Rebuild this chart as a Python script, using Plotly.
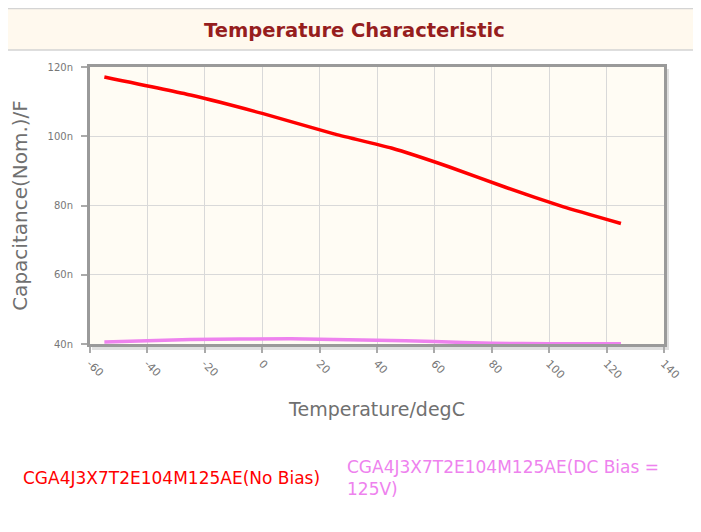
import plotly.graph_objects as go

# ---- data ----
temp_nobias = [-55, -25, 0, 25, 45, 65, 85, 105, 125]
cap_nobias = [117.1, 111.9, 106.6, 100.7, 96.6, 91.2, 85.2, 79.6, 74.8]  # nF

temp_dcbias = [-55, -25, 10, 40, 60, 80, 100, 125]
cap_dcbias = [40.6, 41.3, 41.5, 41.1, 40.7, 40.2, 40.1, 40.1]  # nF

y_tickvals = [40, 60, 80, 100, 120]
y_ticktext = ["40n", "60n", "80n", "100n", "120n"]
x_tickvals = [-60, -40, -20, 0, 20, 40, 60, 80, 100, 120, 140]
x_ticktext = ["-60", "-40", "-20", "0", "20", "40", "60", "80", "100", "120", "140"]

name_nobias = "CGA4J3X7T2E104M125AE(No Bias)"
name_dcbias = "CGA4J3X7T2E104M125AE(DC Bias =<br>125V)"

# ---- layout geometry (pixels, page body adds an 8px offset) ----
OFF = 8
W, H = 701 - OFF, 532 - OFF
ML, MR, MT, MB = 90 - OFF, 37, 67 - OFF, 188
PW = W - ML - MR
PH = H - MT - MB


def px_x(px):
    return (px - OFF - ML) / PW


def px_y(py):
    return (H - MB - (py - OFF)) / PH


fig = go.Figure()
fig.add_trace(go.Scatter(x=temp_nobias, y=cap_nobias, mode="lines",
                         line=dict(color="#ff0000", width=3.5, shape="spline", smoothing=0.4),
                         name=name_nobias, showlegend=False, hoverinfo="skip"))
fig.add_trace(go.Scatter(x=temp_dcbias, y=cap_dcbias, mode="lines",
                         line=dict(color="#ee82ee", width=3.5, shape="spline", smoothing=0.4),
                         name=name_dcbias, showlegend=False, hoverinfo="skip"))

shapes = []
# title band
shapes.append(dict(type="rect", xref="paper", yref="paper",
                   x0=px_x(5), x1=px_x(720), y0=px_y(50), y1=px_y(8.5),
                   fillcolor="#fff9ee", line=dict(color="#d4d4d4", width=1.5), layer="below"))
# frame shadow
shapes.append(dict(type="rect", xref="paper", yref="paper",
                   x0=px_x(665), x1=px_x(669), y0=px_y(350), y1=px_y(69),
                   fillcolor="rgba(0,0,0,0.12)", line=dict(width=0), layer="below"))
shapes.append(dict(type="rect", xref="paper", yref="paper",
                   x0=px_x(92), x1=px_x(665), y0=px_y(350), y1=px_y(346),
                   fillcolor="rgba(0,0,0,0.12)", line=dict(width=0), layer="below"))

annotations = [
    dict(text="<b>Temperature Characteristic</b>", xref="paper", yref="paper",
         x=px_x(354), y=px_y(30), xanchor="center", yanchor="middle", showarrow=False,
         font=dict(family="DejaVu Sans", size=19.5, color="#961e1e")),
    dict(text=name_nobias, xref="paper", yref="paper",
         x=px_x(21), y=px_y(478), xanchor="left", yanchor="middle", showarrow=False,
         align="left", font=dict(family="DejaVu Sans", size=17, color="#ff0000")),
    dict(text=name_dcbias, xref="paper", yref="paper",
         x=px_x(345), y=px_y(478), xanchor="left", yanchor="middle", showarrow=False,
         align="left", font=dict(family="DejaVu Sans", size=17, color="#ee82ee")),
]

fig.update_layout(
    width=W, height=H,
    margin=dict(l=ML, r=MR, t=MT, b=MB, pad=0, autoexpand=False),
    paper_bgcolor="#ffffff", plot_bgcolor="#fffcf4",
    shapes=shapes, annotations=annotations,
    showlegend=False,
)
fig.update_xaxes(range=[-60, 140], tickvals=x_tickvals, ticktext=x_ticktext, tickangle=45,
                 automargin=False,
                 showgrid=True, gridcolor="#d9d9d9", gridwidth=1,
                 showline=True, linecolor="#9a9a9a", linewidth=3, mirror=True,
                 ticks="outside", ticklen=6, tickcolor="#aaaaaa", tickwidth=1.5,
                 tickfont=dict(family="DejaVu Sans", size=11, color="#777777"),
                 zeroline=False,
                 title=dict(text="Temperature/degC", standoff=23,
                            font=dict(family="DejaVu Sans", size=19, color="#707070")))
fig.update_yaxes(range=[40, 120], tickvals=y_tickvals, ticktext=y_ticktext,
                 automargin=False,
                 showgrid=True, gridcolor="#d9d9d9", gridwidth=1,
                 showline=True, linecolor="#9a9a9a", linewidth=3, mirror=True,
                 ticks="outside", ticklen=6, tickcolor="#aaaaaa", tickwidth=1.5,
                 ticklabelstandoff=6,
                 tickfont=dict(family="DejaVu Sans", size=10, color="#777777"),
                 zeroline=False,
                 title=dict(text="Capacitance(Nom.)/F", standoff=26,
                            font=dict(family="DejaVu Sans", size=20, color="#707070")))

fig.write_html("out.html")
